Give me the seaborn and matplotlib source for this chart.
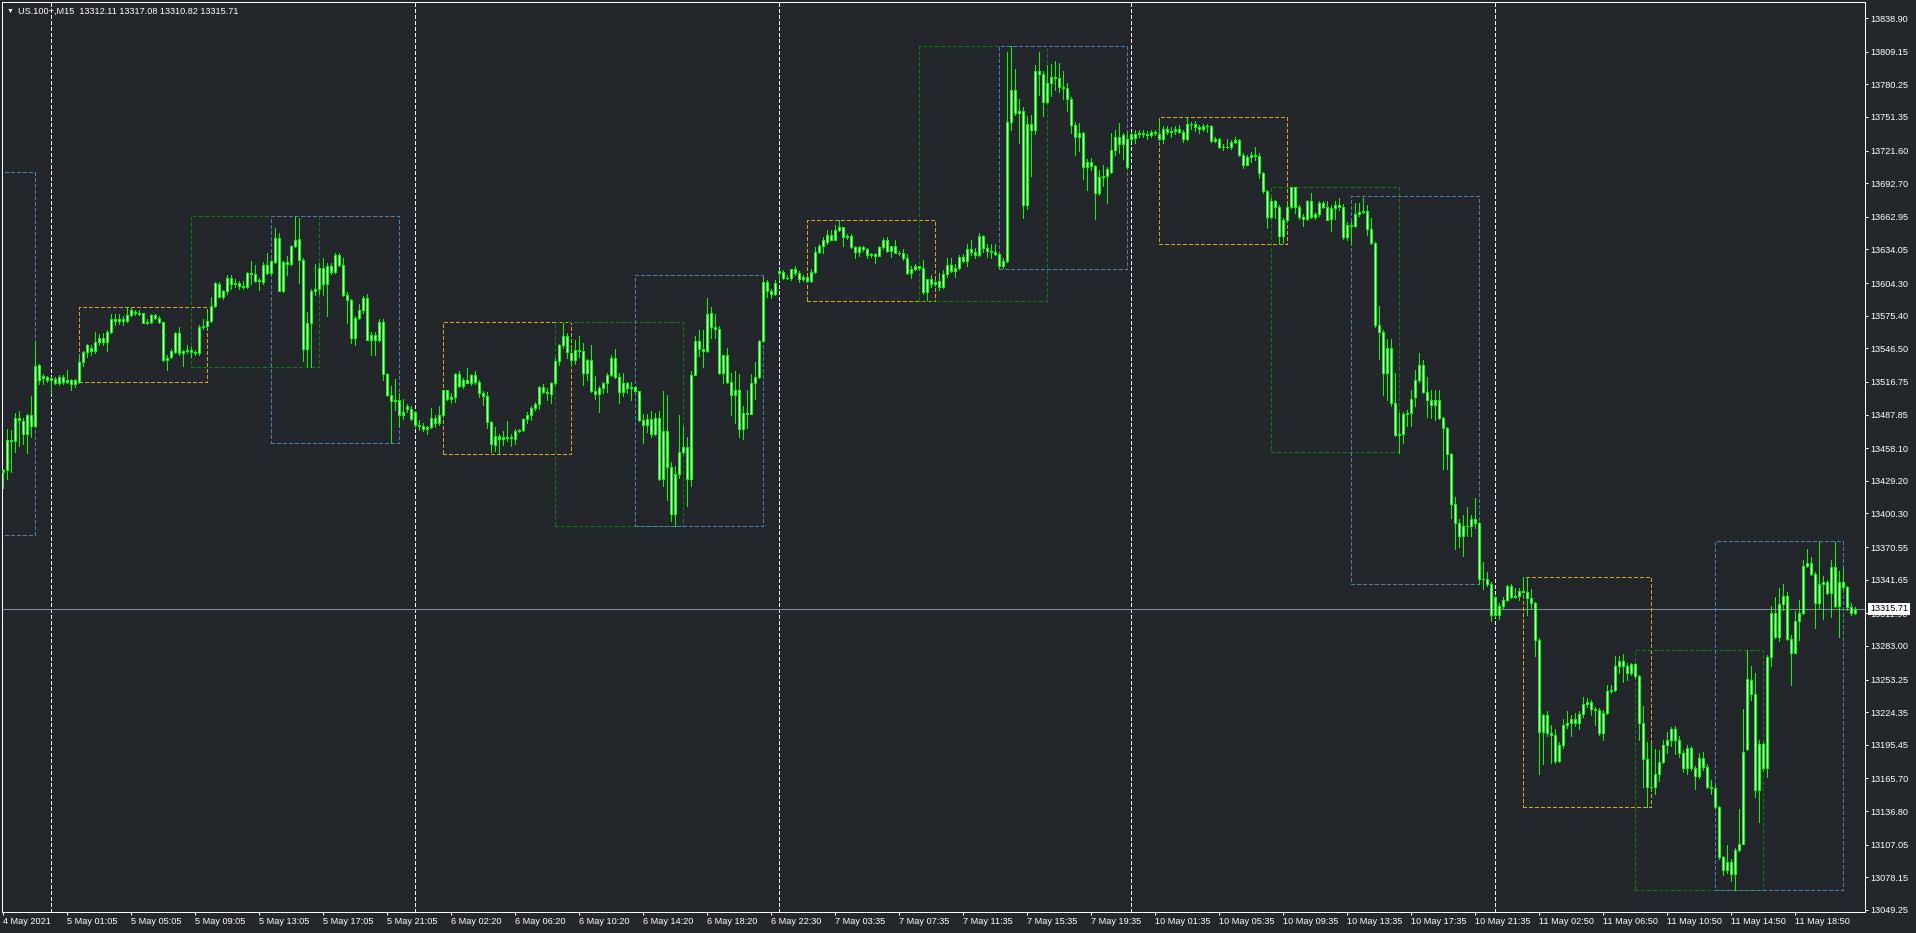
import numpy as np
import pandas as pd
import matplotlib
matplotlib.use("Agg")
import matplotlib.pyplot as plt
import matplotlib.transforms as mtransforms
from matplotlib.patches import Rectangle
import seaborn as sns

# US.100+ M15 candles, one row per bar (bar index 0..463)
opens = [
    13437, 13439, 13465, 13464, 13485, 13482, 13471, 13487, 13478, 13532, 13520, 13521, 13518, 13519, 13516, 13521,
    13517, 13518, 13515, 13517, 13534, 13543, 13547, 13544, 13552, 13556, 13552, 13561, 13572, 13571, 13572, 13571,
    13576, 13579, 13578, 13578, 13569, 13570, 13576, 13573, 13570, 13536, 13539, 13543, 13560, 13542, 13544, 13545,
    13543, 13542, 13565, 13566, 13571, 13584, 13603, 13592, 13597, 13609, 13603, 13604, 13602, 13601, 13613, 13612,
    13606, 13605, 13620, 13613, 13623, 13644, 13597, 13623, 13621, 13637, 13643, 13625, 13546, 13569, 13597, 13599,
    13618, 13603, 13619, 13614, 13629, 13620, 13594, 13589, 13556, 13573, 13580, 13591, 13554, 13558, 13554, 13570,
    13524, 13505, 13500, 13501, 13487, 13493, 13493, 13490, 13479, 13478, 13475, 13477, 13485, 13480, 13487, 13510,
    13502, 13503, 13524, 13513, 13518, 13516, 13523, 13517, 13507, 13504, 13481, 13461, 13469, 13466, 13468, 13467,
    13466, 13473, 13474, 13484, 13487, 13494, 13497, 13512, 13508, 13506, 13516, 13535, 13549, 13557, 13542, 13536,
    13545, 13544, 13525, 13536, 13509, 13506, 13511, 13516, 13523, 13538, 13521, 13508, 13516, 13511, 13512, 13509,
    13483, 13479, 13484, 13471, 13485, 13431, 13473, 13441, 13400, 13435, 13455, 13459, 13431, 13523, 13553, 13546,
    13544, 13578, 13565, 13564, 13525, 13541, 13517, 13505, 13510, 13475, 13489, 13488, 13516, 13521, 13553, 13605,
    13597, 13595, 13613, 13614, 13609, 13609, 13617, 13613, 13608, 13610, 13606, 13614, 13632, 13637, 13641, 13647,
    13642, 13651, 13654, 13645, 13646, 13636, 13632, 13636, 13634, 13629, 13630, 13628, 13636, 13642, 13633, 13637,
    13631, 13631, 13626, 13613, 13617, 13619, 13618, 13596, 13608, 13603, 13606, 13601, 13612, 13620, 13615, 13618,
    13627, 13624, 13634, 13632, 13629, 13646, 13635, 13633, 13632, 13630, 13619, 13624, 13747, 13775, 13755, 13757,
    13673, 13745, 13740, 13792, 13789, 13765, 13781, 13787, 13786, 13778, 13777, 13767, 13744, 13734, 13737, 13707,
    13711, 13708, 13684, 13698, 13699, 13703, 13722, 13734, 13727, 13732, 13732, 13733, 13736, 13737, 13736, 13735,
    13738, 13736, 13732, 13741, 13738, 13739, 13741, 13738, 13732, 13745, 13745, 13742, 13741, 13743, 13743, 13730,
    13732, 13725, 13725, 13725, 13729, 13731, 13718, 13709, 13716, 13718, 13717, 13702, 13686, 13663, 13677, 13672,
    13646, 13660, 13672, 13689, 13672, 13663, 13661, 13677, 13663, 13665, 13675, 13672, 13661, 13671, 13673, 13672,
    13645, 13656, 13655, 13665, 13667, 13668, 13652, 13640, 13567, 13561, 13525, 13547, 13498, 13470, 13471, 13488,
    13489, 13503, 13518, 13532, 13508, 13501, 13496, 13501, 13485, 13476, 13453, 13409, 13392, 13380, 13389, 13389,
    13395, 13392, 13342, 13342, 13338, 13310, 13318, 13318, 13324, 13336, 13326, 13327, 13332, 13331, 13325, 13321,
    13288, 13207, 13222, 13206, 13204, 13181, 13195, 13213, 13215, 13218, 13215, 13223, 13232, 13233, 13227, 13226,
    13206, 13224, 13243, 13244, 13265, 13270, 13265, 13259, 13267, 13256, 13215, 13183, 13158, 13158, 13170, 13180,
    13195, 13200, 13209, 13200, 13188, 13175, 13193, 13175, 13168, 13184, 13176, 13158, 13157, 13140, 13096, 13085,
    13092, 13081, 13102, 13108, 13192, 13253, 13240, 13155, 13196, 13175, 13273, 13312, 13291, 13320, 13327, 13289,
    13277, 13305, 13312, 13354, 13356, 13347, 13321, 13338, 13340, 13330, 13353, 13318, 13340, 13335, 13317, 13312.11,
]
highs = [
    13440, 13475, 13474, 13489, 13491, 13485, 13488, 13504, 13552, 13533, 13524, 13522, 13521, 13521, 13523, 13523,
    13527, 13519, 13519, 13541, 13544, 13550, 13549, 13561, 13559, 13560, 13563, 13577, 13577, 13577, 13575, 13583,
    13583, 13580, 13580, 13578, 13572, 13577, 13577, 13575, 13570, 13541, 13546, 13561, 13565, 13545, 13549, 13548,
    13545, 13567, 13572, 13579, 13592, 13605, 13605, 13598, 13611, 13611, 13608, 13606, 13606, 13614, 13624, 13620,
    13609, 13623, 13631, 13625, 13653, 13649, 13624, 13628, 13638, 13664, 13662, 13626, 13579, 13599, 13621, 13622,
    13626, 13622, 13622, 13631, 13631, 13626, 13596, 13590, 13575, 13586, 13593, 13595, 13561, 13561, 13572, 13572,
    13525, 13513, 13519, 13507, 13502, 13497, 13495, 13491, 13483, 13480, 13478, 13494, 13487, 13495, 13510, 13510,
    13507, 13525, 13526, 13520, 13529, 13524, 13526, 13518, 13509, 13508, 13482, 13477, 13471, 13473, 13482, 13471,
    13475, 13475, 13485, 13490, 13495, 13499, 13513, 13515, 13511, 13517, 13538, 13550, 13569, 13560, 13548, 13554,
    13557, 13551, 13537, 13549, 13522, 13513, 13517, 13525, 13541, 13546, 13525, 13525, 13517, 13517, 13513, 13509,
    13488, 13488, 13491, 13489, 13491, 13509, 13505, 13446, 13442, 13487, 13478, 13468, 13526, 13557, 13563, 13563,
    13591, 13583, 13577, 13566, 13541, 13547, 13525, 13526, 13524, 13495, 13510, 13524, 13534, 13554, 13610, 13607,
    13599, 13607, 13616, 13616, 13611, 13617, 13619, 13615, 13611, 13610, 13617, 13636, 13639, 13645, 13651, 13651,
    13656, 13660, 13654, 13648, 13648, 13637, 13637, 13637, 13635, 13631, 13631, 13637, 13644, 13645, 13637, 13642,
    13633, 13634, 13630, 13619, 13621, 13619, 13625, 13608, 13611, 13607, 13613, 13616, 13626, 13626, 13621, 13629,
    13630, 13639, 13642, 13635, 13649, 13647, 13639, 13639, 13639, 13631, 13626, 13809, 13814, 13794, 13767, 13760,
    13752, 13753, 13797, 13809, 13792, 13797, 13798, 13801, 13799, 13792, 13781, 13769, 13747, 13746, 13738, 13714,
    13715, 13709, 13704, 13709, 13707, 13737, 13740, 13746, 13737, 13738, 13738, 13740, 13740, 13740, 13739, 13740,
    13740, 13748, 13743, 13743, 13742, 13743, 13744, 13740, 13751, 13747, 13748, 13744, 13745, 13745, 13744, 13734,
    13733, 13727, 13732, 13731, 13734, 13732, 13719, 13718, 13720, 13725, 13719, 13703, 13687, 13680, 13678, 13673,
    13662, 13674, 13689, 13689, 13673, 13665, 13678, 13684, 13667, 13677, 13677, 13677, 13673, 13677, 13680, 13674,
    13658, 13658, 13675, 13675, 13680, 13673, 13662, 13641, 13584, 13563, 13555, 13555, 13525, 13489, 13490, 13492,
    13510, 13527, 13542, 13536, 13521, 13510, 13510, 13510, 13486, 13477, 13454, 13415, 13395, 13399, 13406, 13399,
    13414, 13393, 13357, 13348, 13340, 13327, 13321, 13326, 13337, 13338, 13334, 13334, 13344, 13344, 13333, 13322,
    13290, 13223, 13225, 13213, 13209, 13198, 13218, 13225, 13222, 13224, 13225, 13238, 13237, 13235, 13229, 13228,
    13226, 13248, 13248, 13274, 13274, 13276, 13268, 13268, 13268, 13257, 13230, 13198, 13197, 13192, 13191, 13200,
    13207, 13211, 13212, 13203, 13191, 13195, 13194, 13177, 13188, 13189, 13178, 13164, 13161, 13141, 13097, 13107,
    13094, 13104, 13139, 13227, 13279, 13265, 13259, 13200, 13198, 13275, 13318, 13326, 13334, 13338, 13331, 13293,
    13314, 13324, 13359, 13369, 13362, 13348, 13375, 13345, 13341, 13359, 13375, 13349, 13353, 13336, 13321, 13317.08,
]
lows = [
    13423, 13431, 13437, 13455, 13460, 13462, 13454, 13468, 13477, 13515, 13515, 13517, 13507, 13515, 13514, 13515,
    13516, 13510, 13512, 13516, 13531, 13539, 13541, 13542, 13549, 13549, 13544, 13560, 13567, 13568, 13567, 13570,
    13575, 13576, 13576, 13569, 13568, 13569, 13572, 13569, 13535, 13527, 13538, 13542, 13541, 13531, 13542, 13539,
    13541, 13541, 13564, 13565, 13570, 13583, 13592, 13590, 13595, 13599, 13601, 13599, 13599, 13600, 13603, 13605,
    13598, 13603, 13612, 13611, 13622, 13597, 13596, 13611, 13620, 13636, 13604, 13535, 13531, 13530, 13594, 13595,
    13594, 13575, 13612, 13613, 13619, 13593, 13569, 13551, 13549, 13572, 13578, 13554, 13541, 13541, 13552, 13518,
    13504, 13463, 13492, 13477, 13484, 13490, 13483, 13477, 13474, 13473, 13471, 13476, 13477, 13479, 13486, 13501,
    13498, 13499, 13512, 13511, 13516, 13514, 13515, 13503, 13496, 13476, 13455, 13456, 13453, 13461, 13464, 13460,
    13462, 13472, 13473, 13480, 13483, 13492, 13493, 13507, 13501, 13498, 13514, 13532, 13547, 13538, 13531, 13533,
    13539, 13514, 13518, 13508, 13502, 13490, 13507, 13508, 13522, 13520, 13498, 13504, 13507, 13501, 13508, 13482,
    13463, 13472, 13468, 13470, 13430, 13425, 13412, 13394, 13389, 13432, 13453, 13407, 13425, 13523, 13540, 13530,
    13543, 13556, 13556, 13524, 13516, 13516, 13487, 13480, 13468, 13466, 13476, 13488, 13502, 13520, 13553, 13592,
    13591, 13594, 13607, 13608, 13608, 13607, 13611, 13605, 13606, 13605, 13605, 13613, 13631, 13631, 13639, 13642,
    13642, 13650, 13637, 13643, 13635, 13626, 13628, 13633, 13626, 13627, 13622, 13628, 13634, 13632, 13627, 13631,
    13629, 13625, 13612, 13609, 13616, 13616, 13595, 13589, 13601, 13602, 13598, 13600, 13610, 13614, 13610, 13617,
    13623, 13619, 13629, 13626, 13628, 13632, 13627, 13626, 13629, 13618, 13618, 13623, 13740, 13753, 13728, 13662,
    13670, 13699, 13736, 13771, 13752, 13764, 13770, 13775, 13773, 13767, 13757, 13737, 13718, 13721, 13696, 13687,
    13704, 13661, 13682, 13690, 13675, 13702, 13718, 13719, 13714, 13705, 13731, 13728, 13734, 13734, 13732, 13734,
    13735, 13731, 13728, 13736, 13734, 13736, 13737, 13729, 13731, 13741, 13739, 13737, 13739, 13738, 13729, 13729,
    13724, 13722, 13724, 13723, 13728, 13717, 13706, 13709, 13711, 13713, 13697, 13684, 13653, 13662, 13662, 13639,
    13640, 13659, 13671, 13666, 13661, 13655, 13660, 13662, 13661, 13664, 13671, 13660, 13650, 13661, 13669, 13643,
    13642, 13639, 13654, 13664, 13666, 13647, 13639, 13565, 13537, 13505, 13501, 13495, 13469, 13454, 13463, 13478,
    13478, 13495, 13517, 13507, 13486, 13485, 13483, 13484, 13440, 13440, 13396, 13369, 13371, 13363, 13380, 13380,
    13387, 13338, 13333, 13336, 13305, 13309, 13307, 13316, 13323, 13325, 13325, 13324, 13330, 13310, 13316, 13274,
    13170, 13178, 13203, 13179, 13179, 13180, 13193, 13210, 13203, 13212, 13209, 13220, 13229, 13222, 13213, 13204,
    13200, 13223, 13241, 13243, 13259, 13251, 13253, 13257, 13255, 13200, 13158, 13140, 13156, 13152, 13163, 13179,
    13188, 13194, 13187, 13185, 13171, 13170, 13173, 13156, 13166, 13173, 13157, 13152, 13139, 13094, 13080, 13082,
    13075, 13067, 13101, 13108, 13191, 13235, 13149, 13127, 13173, 13167, 13265, 13290, 13287, 13315, 13288, 13248,
    13277, 13288, 13311, 13353, 13346, 13299, 13316, 13307, 13329, 13309, 13317, 13291, 13333, 13315, 13310, 13310.82,
]
closes = [
    13439, 13465, 13464, 13485, 13483, 13471, 13487, 13478, 13531, 13518, 13522, 13518, 13520, 13516, 13521, 13517,
    13518, 13515, 13518, 13534, 13543, 13549, 13544, 13552, 13556, 13552, 13561, 13572, 13571, 13572, 13571, 13576,
    13580, 13578, 13577, 13569, 13570, 13576, 13573, 13570, 13536, 13538, 13544, 13560, 13542, 13544, 13545, 13543,
    13542, 13565, 13566, 13571, 13584, 13604, 13592, 13597, 13609, 13603, 13604, 13602, 13601, 13613, 13612, 13606,
    13607, 13620, 13613, 13624, 13644, 13597, 13623, 13621, 13637, 13642, 13625, 13546, 13569, 13597, 13599, 13618,
    13603, 13619, 13614, 13629, 13620, 13594, 13589, 13556, 13573, 13580, 13591, 13554, 13558, 13554, 13570, 13524,
    13505, 13500, 13501, 13487, 13490, 13495, 13484, 13479, 13478, 13475, 13477, 13485, 13480, 13487, 13510, 13502,
    13503, 13524, 13513, 13518, 13516, 13523, 13517, 13507, 13504, 13481, 13462, 13469, 13466, 13468, 13467, 13468,
    13473, 13474, 13484, 13487, 13494, 13497, 13512, 13508, 13507, 13516, 13535, 13549, 13557, 13543, 13536, 13545,
    13544, 13525, 13536, 13509, 13506, 13511, 13516, 13523, 13538, 13521, 13508, 13516, 13511, 13512, 13509, 13483,
    13479, 13484, 13471, 13485, 13431, 13473, 13441, 13400, 13435, 13455, 13459, 13431, 13523, 13553, 13546, 13544,
    13577, 13565, 13564, 13525, 13541, 13517, 13505, 13510, 13475, 13489, 13488, 13516, 13521, 13553, 13605, 13597,
    13595, 13604, 13615, 13609, 13609, 13617, 13613, 13608, 13610, 13606, 13614, 13632, 13637, 13642, 13647, 13642,
    13651, 13654, 13645, 13646, 13636, 13632, 13636, 13634, 13629, 13630, 13628, 13636, 13642, 13633, 13637, 13631,
    13631, 13626, 13613, 13617, 13619, 13618, 13596, 13608, 13603, 13605, 13601, 13612, 13620, 13615, 13618, 13627,
    13624, 13634, 13632, 13629, 13646, 13635, 13633, 13632, 13630, 13619, 13624, 13747, 13775, 13755, 13757, 13673,
    13745, 13740, 13792, 13789, 13765, 13781, 13787, 13786, 13778, 13777, 13767, 13744, 13734, 13737, 13707, 13711,
    13708, 13684, 13698, 13699, 13705, 13722, 13734, 13727, 13735, 13707, 13736, 13736, 13737, 13736, 13735, 13738,
    13737, 13732, 13741, 13738, 13739, 13741, 13738, 13732, 13745, 13745, 13742, 13741, 13743, 13743, 13730, 13732,
    13725, 13725, 13725, 13729, 13731, 13718, 13709, 13716, 13718, 13717, 13702, 13686, 13663, 13677, 13672, 13646,
    13660, 13672, 13689, 13672, 13663, 13661, 13677, 13663, 13665, 13675, 13672, 13660, 13671, 13673, 13672, 13645,
    13656, 13655, 13665, 13667, 13668, 13652, 13640, 13567, 13561, 13525, 13547, 13498, 13470, 13471, 13488, 13489,
    13502, 13518, 13532, 13508, 13501, 13496, 13501, 13485, 13476, 13453, 13409, 13392, 13380, 13389, 13389, 13395,
    13392, 13342, 13342, 13338, 13310, 13326, 13310, 13324, 13336, 13326, 13327, 13332, 13331, 13325, 13321, 13288,
    13207, 13222, 13206, 13204, 13181, 13195, 13213, 13215, 13218, 13215, 13223, 13232, 13233, 13227, 13226, 13206,
    13224, 13243, 13244, 13265, 13270, 13265, 13259, 13267, 13256, 13215, 13183, 13158, 13158, 13170, 13180, 13195,
    13200, 13209, 13200, 13188, 13175, 13193, 13175, 13168, 13184, 13176, 13158, 13157, 13140, 13096, 13085, 13092,
    13081, 13102, 13108, 13189, 13254, 13240, 13155, 13196, 13175, 13273, 13312, 13291, 13320, 13327, 13289, 13277,
    13305, 13312, 13354, 13356, 13347, 13321, 13338, 13340, 13330, 13353, 13318, 13340, 13335, 13317, 13312, 13315.71,
]

# time axis labels, one every 16 bars
label_bars = list(range(0, 464, 16))
time_labels = [
    "4 May 2021", "5 May 01:05", "5 May 05:05", "5 May 09:05", "5 May 13:05", "5 May 17:05",
    "5 May 21:05", "6 May 02:20", "6 May 06:20", "6 May 10:20", "6 May 14:20", "6 May 18:20",
    "6 May 22:30", "7 May 03:35", "7 May 07:35", "7 May 11:35", "7 May 15:35", "7 May 19:35",
    "10 May 01:35", "10 May 05:35", "10 May 09:35", "10 May 13:35", "10 May 17:35", "10 May 21:35",
    "11 May 02:50", "11 May 06:50", "11 May 10:50", "11 May 14:50", "11 May 18:50",
]
price_ticks = [
    13838.90, 13809.15, 13780.25, 13751.35, 13721.60, 13692.70, 13662.95, 13634.05,
    13604.30, 13575.40, 13546.50, 13516.75, 13487.85, 13458.10, 13429.20, 13400.30,
    13370.55, 13341.65, 13311.90, 13283.00, 13253.25, 13224.35, 13195.45, 13165.70,
    13136.80, 13107.05, 13078.15, 13049.25,
]
day_breaks = [12, 103, 194, 282, 373]
last_price = 13315.71

# session range boxes
box_start = [-24, 19, 47, 67, 110, 138, 158, 201, 229, 249, 289, 317, 337, 380, 408, 428]
box_end = [8, 51, 79, 99, 142, 170, 190, 233, 261, 281, 321, 349, 369, 412, 440, 460]
box_high = [13703, 13583, 13664, 13664, 13570, 13570, 13611, 13660, 13814, 13814, 13751, 13689, 13681, 13344, 13279, 13376]
box_low = [13381, 13517, 13530, 13463, 13453, 13389, 13389, 13588, 13588, 13617, 13639, 13455, 13338, 13140, 13067, 13067]
box_kind = ["blue", "orange", "green", "blue", "orange", "green", "blue", "orange",
            "green", "blue", "orange", "green", "blue", "orange", "green", "blue"]

BG = "#23272c"
GREEN = "#00ff00"
PX = 0.72  # one pixel in points at 100 dpi
box_colors = {"blue": "#4a82b6", "orange": "#daa520", "green": "#0b7d0b"}

sns.set_theme(style="dark", rc={
    "axes.facecolor": BG, "figure.facecolor": BG, "axes.edgecolor": "white",
    "axes.linewidth": PX, "xtick.color": "white", "ytick.color": "white",
    "text.color": "white", "lines.scale_dashes": False,
})
plt.rcParams["font.family"] = ["Liberation Sans", "DejaVu Sans"]

df = pd.DataFrame({"open": opens, "high": highs, "low": lows, "close": closes})
df["bar"] = np.arange(len(df))
df["body_lo"] = df[["open", "close"]].min(axis=1)
df["body_hi"] = df[["open", "close"]].max(axis=1)

fig = plt.figure(figsize=(19.16, 9.33), dpi=100)
ax = fig.add_axes([2 / 1916, 21 / 933, 1863 / 1916, 910 / 933])

# day separators and last price line
for b in day_breaks:
    ax.axvline(b, color="white", lw=PX, ls=(0, (2.2, 1.5)), antialiased=False, zorder=1)
ax.axhline(last_price, color="#7f8fa0", lw=PX, zorder=1.2)

# range boxes
for s, e, hi, lo, k in zip(box_start, box_end, box_high, box_low, box_kind):
    ax.add_patch(Rectangle((s, lo), e - s, hi - lo, fill=False, ec=box_colors[k],
                           lw=PX, ls=(0, (2.2, 1.5)), antialiased=False, zorder=1.5))

# candles: wick + hollow body
ax.vlines(df["bar"], np.minimum(df["low"], df["body_lo"]), np.maximum(df["high"], df["body_hi"]),
          colors=GREEN, lw=PX, antialiased=False, zorder=2)
ax.bar(df["bar"], df["body_hi"] - df["body_lo"], bottom=df["body_lo"], width=0.56,
       color="white", edgecolor=GREEN, linewidth=PX, antialiased=False, zorder=3)

ax.set_xlim(-0.25, 465.5)
ax.set_ylim(13047.4, 13853.1)

ax.set_xticks(label_bars)
ax.set_xticklabels(time_labels)
for lab in ax.get_xticklabels():
    lab.set_ha("left")
ax.yaxis.tick_right()
ax.set_yticks(price_ticks)
ax.set_yticklabels([f"{p:.2f}" for p in price_ticks])
ax.tick_params(axis="x", bottom=True, direction="out", length=2.2, width=PX, pad=1.5,
               labelsize=6.6, labelcolor="white")
ax.tick_params(axis="y", right=True, left=False, direction="out", length=2.0, width=PX, pad=2,
               labelsize=6.6, labelcolor="white")
ax.grid(False)
for sp in ax.spines.values():
    sp.set_color("white")
    sp.set_linewidth(PX)
    sp.set_visible(True)

# last price tag on the price scale
tag_tr = mtransforms.offset_copy(
    mtransforms.blended_transform_factory(ax.transAxes, ax.transData), fig=fig, x=5, y=0, units="dots")
ax.text(1.0, last_price, f"{last_price:.2f}", transform=tag_tr, ha="left", va="center",
        fontsize=6.6, color="black", clip_on=False, zorder=10,
        bbox=dict(boxstyle="square,pad=0.2", fc="white", ec="none"))

# symbol header
fig.text(7 / 1916, 1 - 11 / 933, "\u25bc", fontsize=5, color="white", va="center", ha="left")
fig.text(18 / 1916, 1 - 11 / 933, "US.100+,M15  13312.11 13317.08 13310.82 13315.71",
         fontsize=6.6, color="white", va="center", ha="left")

fig.savefig("out.png", dpi=100, facecolor=BG)
